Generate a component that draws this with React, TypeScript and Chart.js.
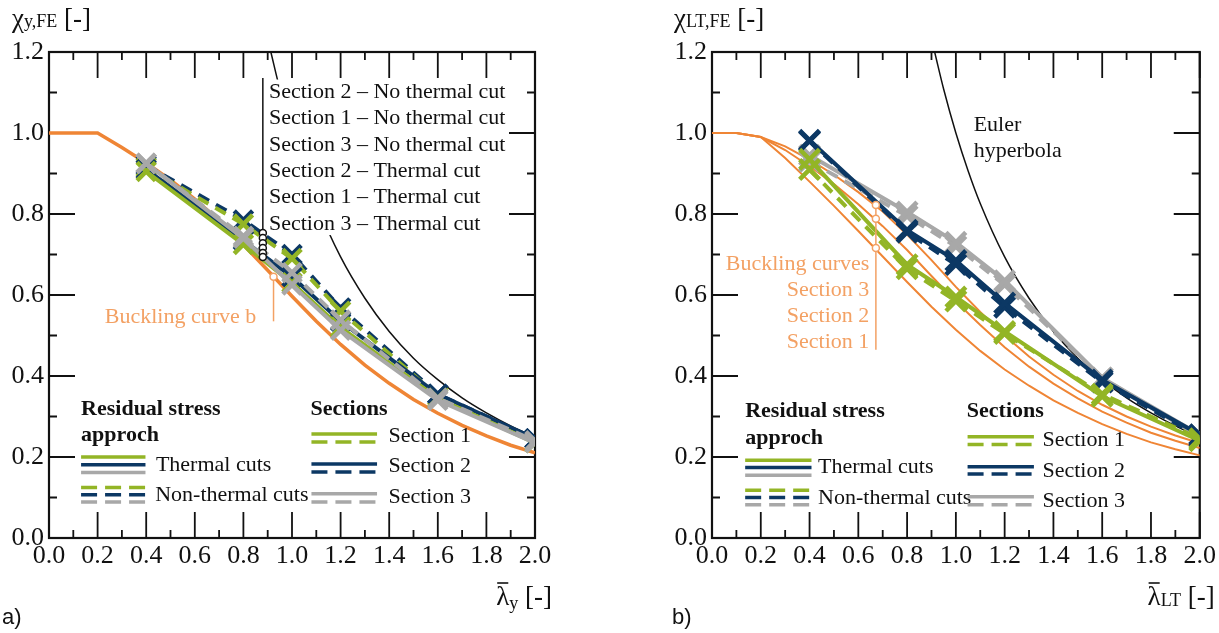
import React, { useEffect, useRef } from "react";
import { Chart, registerables } from "chart.js";
Chart.register(...registerables);

// ---------------- DATA ----------------
const LAM_POINTS = [0.4, 0.8, 1.0, 1.2, 1.6, 2.0];

// a) flexural buckling, chi_y,FE
const A_S1_THERMAL = [0.905, 0.725, 0.63, 0.52, 0.345, 0.235];
const A_S2_THERMAL = [0.91, 0.735, 0.645, 0.535, 0.355, 0.245];
const A_S3_THERMAL = [0.925, 0.74, 0.625, 0.513, 0.34, 0.235];
const A_S1_NONTHERMAL = [0.915, 0.775, 0.69, 0.56, 0.35, 0.24];
const A_S2_NONTHERMAL = [0.92, 0.785, 0.7, 0.568, 0.355, 0.245];
const A_S3_NONTHERMAL = [0.925, 0.745, 0.655, 0.538, 0.345, 0.24];

// b) lateral torsional buckling, chi_LT,FE
const B_S1_THERMAL = [0.935, 0.675, 0.595, 0.51, 0.35, 0.24];
const B_S1_NONTHERMAL = [0.91, 0.665, 0.585, 0.505, 0.355, 0.245];
const B_S2_THERMAL = [0.982, 0.76, 0.685, 0.58, 0.39, 0.255];
const B_S2_NONTHERMAL = [0.98, 0.755, 0.675, 0.57, 0.385, 0.25];
const B_S3_THERMAL = [0.945, 0.805, 0.73, 0.635, 0.395, 0.255];
const B_S3_NONTHERMAL = [0.93, 0.795, 0.72, 0.625, 0.395, 0.25];

// buckling curves
const CURVE_LAM = [0, 0.1, 0.2, 0.3, 0.4, 0.5, 0.6, 0.7, 0.8, 0.9, 1.0, 1.1, 1.2, 1.3, 1.4, 1.5, 1.6, 1.7, 1.8, 1.9, 2.0];
const A_CURVE_B = [1.0, 1.0, 1.0, 0.964, 0.926, 0.884, 0.837, 0.784, 0.724, 0.661, 0.597, 0.535, 0.478, 0.427, 0.382, 0.342, 0.308, 0.278, 0.252, 0.229, 0.21];
const B_CURVE_S1 = [1.0, 1.0, 0.99, 0.938, 0.88, 0.82, 0.758, 0.695, 0.632, 0.571, 0.514, 0.462, 0.416, 0.376, 0.34, 0.309, 0.281, 0.257, 0.236, 0.219, 0.204];
const B_CURVE_S2 = [1.0, 1.0, 0.99, 0.958, 0.918, 0.874, 0.824, 0.77, 0.711, 0.647, 0.584, 0.526, 0.471, 0.423, 0.381, 0.345, 0.312, 0.285, 0.26, 0.24, 0.222];
const B_CURVE_S3 = [1.0, 1.0, 0.99, 0.967, 0.934, 0.897, 0.854, 0.806, 0.749, 0.686, 0.62, 0.558, 0.5, 0.448, 0.403, 0.363, 0.329, 0.3, 0.275, 0.253, 0.234];

// Euler hyperbola
const EULER_LAM = [0.913, 0.95, 1.0, 1.05, 1.1, 1.2, 1.3, 1.4, 1.5, 1.6, 1.7, 1.8, 1.9, 2.0];
const EULER_CHI = [1.2, 1.108, 1.0, 0.907, 0.826, 0.694, 0.592, 0.51, 0.444, 0.391, 0.346, 0.309, 0.277, 0.25];

// text
const A_LEADER_LABELS = [
  "Section 2 – No thermal cut",
  "Section 1 – No thermal cut",
  "Section 3 – No thermal cut",
  "Section 2 – Thermal cut",
  "Section 1 – Thermal cut",
  "Section 3 – Thermal cut",
];
const A_LEADER_CHI = [0.753, 0.741, 0.728, 0.716, 0.704, 0.694];
const B_CURVE_LABELS = ["Buckling curves", "Section 3", "Section 2", "Section 1"];
const B_LEADER_CHI = [0.822, 0.788, 0.716];

// ---------------- STYLE ----------------
const SERIF = '"Liberation Serif", "Times New Roman", serif';
const SANS = '"Liberation Sans", Arial, sans-serif';
const GREEN = "#93b526";
const BLUE = "#0c3864";
const GRAY = "#a8a8a8";
const ORANGE = "#ef8535";
const ORANGE_TXT = "#f3a164";
const INK = "#111111";
const TXT = 22;

type XY = { x: number; y: number };
const zip = (xs: number[], ys: number[]): XY[] => xs.map((x, i) => ({ x, y: ys[i] }));

function series(label: string, ys: number[], color: string, dashed: boolean, order: number, radius: number) {
  return {
    label,
    data: zip(LAM_POINTS, ys),
    showLine: true,
    borderColor: color,
    backgroundColor: color,
    borderWidth: 4,
    borderDash: dashed ? [12, 8] : [],
    pointStyle: "crossRot",
    pointRadius: radius,
    pointBorderWidth: 4.5,
    pointBorderColor: color,
    pointHoverRadius: radius,
    tension: 0,
    order,
  };
}

function curve(label: string, xs: number[], ys: number[], color: string, width: number, order: number, smooth: boolean) {
  return {
    label,
    data: zip(xs, ys),
    showLine: true,
    borderColor: color,
    backgroundColor: color,
    borderWidth: width,
    pointRadius: 0,
    pointHoverRadius: 0,
    cubicInterpolationMode: smooth ? "monotone" : "default",
    tension: 0,
    order,
  };
}

function text(ctx: CanvasRenderingContext2D, s: string, x: number, y: number, opts: any = {}) {
  const { size = TXT, weight = "normal", color = INK, align = "left", family = SERIF } = opts;
  ctx.font = `${weight} ${size}px ${family}`;
  ctx.fillStyle = color;
  ctx.textAlign = align;
  ctx.textBaseline = "middle";
  ctx.fillText(s, x, y);
}

function line(ctx: CanvasRenderingContext2D, x1: number, y1: number, x2: number, y2: number, color: string, w: number, dash: number[] = []) {
  ctx.save();
  ctx.strokeStyle = color;
  ctx.lineWidth = w;
  ctx.setLineDash(dash);
  ctx.beginPath();
  ctx.moveTo(x1, y1);
  ctx.lineTo(x2, y2);
  ctx.stroke();
  ctx.restore();
}

function circle(ctx: CanvasRenderingContext2D, x: number, y: number, r: number, color: string) {
  ctx.save();
  ctx.beginPath();
  ctx.arc(x, y, r, 0, Math.PI * 2);
  ctx.fillStyle = "#fff";
  ctx.fill();
  ctx.strokeStyle = color;
  ctx.lineWidth = 1.5;
  ctx.stroke();
  ctx.restore();
}

function subTitle(ctx: CanvasRenderingContext2D, main: string, sub: string, x: number, base: number, align: "left" | "right", bar: boolean, subDrop: number) {
  const big = `27px ${SERIF}`;
  const small = `18px ${SERIF}`;
  const tail = " [-]";
  ctx.save();
  ctx.textBaseline = "alphabetic";
  ctx.textAlign = "left";
  ctx.fillStyle = INK;
  ctx.font = big;
  const w1 = ctx.measureText(main).width;
  const w3 = ctx.measureText(tail).width;
  ctx.font = small;
  const w2 = ctx.measureText(sub).width;
  const start = align === "right" ? x - (w1 + w2 + w3) : x;
  ctx.font = big;
  ctx.fillText(main, start, base);
  ctx.font = small;
  ctx.fillText(sub, start + w1, base + subDrop);
  ctx.font = big;
  ctx.fillText(tail, start + w1 + w2, base);
  if (bar) line(ctx, start + 1, base - 22, start + w1 - 1, base - 22, INK, 1.6);
  ctx.restore();
}

type LegendPos = {
  resX: number; resY: number; appY: number;
  thX1: number; thX2: number; thY: number[]; thTxtX: number; thTxtY: number;
  ntY: number[]; ntTxtX: number; ntTxtY: number;
  secX: number; secY: number; sX1: number; sX2: number; sTxtX: number;
  sSolid: number[]; sDash: number[]; sTxt: number[];
};

function drawLegend(ctx: CanvasRenderingContext2D, X: (v: number) => number, Y: (v: number) => number, p: LegendPos) {
  const cols = [GREEN, BLUE, GRAY];
  text(ctx, "Residual stress", X(p.resX), Y(p.resY), { weight: "bold" });
  text(ctx, "approch", X(p.resX), Y(p.appY), { weight: "bold" });
  cols.forEach((c, i) => line(ctx, X(p.thX1), Y(p.thY[i]), X(p.thX2), Y(p.thY[i]), c, 3.5));
  text(ctx, "Thermal cuts", X(p.thTxtX), Y(p.thTxtY));
  cols.forEach((c, i) => line(ctx, X(p.thX1), Y(p.ntY[i]), X(p.thX2), Y(p.ntY[i]), c, 3.5, [16, 8]));
  text(ctx, "Non-thermal cuts", X(p.ntTxtX), Y(p.ntTxtY));
  text(ctx, "Sections", X(p.secX), Y(p.secY), { weight: "bold" });
  cols.forEach((c, i) => {
    line(ctx, X(p.sX1), Y(p.sSolid[i]), X(p.sX2), Y(p.sSolid[i]), c, 3.5);
    line(ctx, X(p.sX1), Y(p.sDash[i]), X(p.sX2), Y(p.sDash[i]), c, 3.5, [16, 8]);
    text(ctx, `Section ${i + 1}`, X(p.sTxtX), Y(p.sTxt[i]));
  });
}

function drawFrame(ctx: CanvasRenderingContext2D, chart: any) {
  const xs = chart.scales.x;
  const ys = chart.scales.y;
  const { left, right, top, bottom } = chart.chartArea;
  ctx.save();
  ctx.strokeStyle = INK;
  ctx.lineWidth = 1.8;
  for (let i = 0; i <= 20; i++) {
    const px = xs.getPixelForValue(i / 10);
    const len = i % 2 === 0 ? 26 : 8;
    ctx.beginPath();
    ctx.moveTo(px, bottom);
    ctx.lineTo(px, bottom - len);
    ctx.moveTo(px, top);
    ctx.lineTo(px, top + len);
    ctx.stroke();
  }
  for (let i = 0; i <= 12; i++) {
    const py = ys.getPixelForValue(i / 10);
    const len = i % 2 === 0 ? 26 : 8;
    ctx.beginPath();
    ctx.moveTo(left, py);
    ctx.lineTo(left + len, py);
    ctx.moveTo(right, py);
    ctx.lineTo(right - len, py);
    ctx.stroke();
  }
  ctx.lineWidth = 2.2;
  ctx.strokeRect(left, top, right - left, bottom - top);
  ctx.restore();
}

function decorPlugin(panel: "a" | "b") {
  return {
    id: "decor_" + panel,
    beforeDatasetsDraw(chart: any) {
      drawFrame(chart.ctx, chart);
    },
    afterDatasetsDraw(chart: any) {
      const ctx: CanvasRenderingContext2D = chart.ctx;
      const X = (v: number) => chart.scales.x.getPixelForValue(v);
      const Y = (v: number) => chart.scales.y.getPixelForValue(v);
      const { right, bottom } = chart.chartArea;
      ctx.save();
      if (panel === "a") {
        ctx.fillStyle = "#fff";
        ctx.fillRect(X(0.895), Y(1.132), X(1.88) - X(0.895), Y(0.748) - Y(1.132));
        line(ctx, X(0.88), Y(1.136), X(0.88), Y(0.694), INK, 1.5);
        A_LEADER_CHI.forEach((c) => circle(ctx, X(0.88), Y(c), 3.5, INK));
        A_LEADER_LABELS.forEach((s, i) => text(ctx, s, X(0.905), Y(1.101 - i * 0.065)));
        line(ctx, X(0.924), Y(0.645), X(0.924), Y(0.535), ORANGE_TXT, 1.5);
        circle(ctx, X(0.924), Y(0.645), 3.5, ORANGE_TXT);
        text(ctx, "Buckling curve b", X(0.853), Y(0.545), { color: ORANGE_TXT, align: "right" });
        drawLegend(ctx, X, Y, {
          resX: 0.132, resY: 0.317, appY: 0.253,
          thX1: 0.132, thX2: 0.397, thY: [0.2, 0.181, 0.162], thTxtX: 0.44, thTxtY: 0.179,
          ntY: [0.125, 0.107, 0.089], ntTxtX: 0.437, ntTxtY: 0.105,
          secX: 1.076, secY: 0.318, sX1: 1.08, sX2: 1.35, sTxtX: 1.397,
          sSolid: [0.257, 0.183, 0.109], sDash: [0.237, 0.163, 0.089], sTxt: [0.251, 0.177, 0.1],
        });
        subTitle(ctx, "χ", "y,FE", 12, 27, "left", false, 0);
        subTitle(ctx, "λ", "y", right + 17, bottom + 67, "right", true, 4);
        text(ctx, "a)", 2, 618, { family: SANS, size: 22 });
      } else {
        text(ctx, "Euler", X(1.073), Y(1.018));
        text(ctx, "hyperbola", X(1.073), Y(0.955));
        line(ctx, X(0.672), Y(0.822), X(0.672), Y(0.465), ORANGE_TXT, 1.5);
        B_LEADER_CHI.forEach((c) => circle(ctx, X(0.672), Y(c), 3.5, ORANGE_TXT));
        B_CURVE_LABELS.forEach((s, i) => text(ctx, s, X(0.645), Y(0.676 - i * 0.064), { color: ORANGE_TXT, align: "right" }));
        drawLegend(ctx, X, Y, {
          resX: 0.136, resY: 0.312, appY: 0.245,
          thX1: 0.136, thX2: 0.408, thY: [0.192, 0.174, 0.155], thTxtX: 0.435, thTxtY: 0.174,
          ntY: [0.118, 0.1, 0.082], ntTxtX: 0.435, ntTxtY: 0.099,
          secX: 1.045, secY: 0.314, sX1: 1.048, sX2: 1.32, sTxtX: 1.355,
          sSolid: [0.25, 0.176, 0.102], sDash: [0.231, 0.158, 0.082], sTxt: [0.242, 0.165, 0.091],
        });
        subTitle(ctx, "χ", "LT,FE", 64, 27, "left", false, 0);
        subTitle(ctx, "λ", "LT", right + 15, bottom + 67, "right", true, 1);
        text(ctx, "b)", 62, 618, { family: SANS, size: 22 });
      }
      ctx.restore();
    },
  };
}

function buildConfig(panel: "a" | "b"): any {
  const yWidth = panel === "a" ? 49 : 102;
  const padRight = panel === "a" ? 75 : 19;
  let datasets: any[];
  if (panel === "a") {
    datasets = [
      curve("Buckling curve b", CURVE_LAM, A_CURVE_B, ORANGE, 3.5, 9, false),
      curve("Euler hyperbola", EULER_LAM, EULER_CHI, INK, 1.5, 8, true),
      series("Section 2 – No thermal cut", A_S2_NONTHERMAL, BLUE, true, 7, 13),
      series("Section 1 – No thermal cut", A_S1_NONTHERMAL, GREEN, true, 6, 13),
      series("Section 2 – Thermal cut", A_S2_THERMAL, BLUE, false, 5, 13),
      series("Section 1 – Thermal cut", A_S1_THERMAL, GREEN, false, 4, 13),
      series("Section 3 – No thermal cut", A_S3_NONTHERMAL, GRAY, true, 3, 13),
      series("Section 3 – Thermal cut", A_S3_THERMAL, GRAY, false, 2, 13),
    ];
  } else {
    datasets = [
      curve("Euler hyperbola", EULER_LAM, EULER_CHI, INK, 1.5, 12, true),
      curve("Buckling curve Section 1", CURVE_LAM, B_CURVE_S1, ORANGE, 2, 11, false),
      curve("Buckling curve Section 2", CURVE_LAM, B_CURVE_S2, ORANGE, 2, 10, false),
      curve("Buckling curve Section 3", CURVE_LAM, B_CURVE_S3, ORANGE, 2, 9, false),
      series("Section 3 – Non-thermal cuts", B_S3_NONTHERMAL, GRAY, true, 8, 14),
      series("Section 3 – Thermal cuts", B_S3_THERMAL, GRAY, false, 7, 14),
      series("Section 2 – Non-thermal cuts", B_S2_NONTHERMAL, BLUE, true, 6, 14),
      series("Section 2 – Thermal cuts", B_S2_THERMAL, BLUE, false, 5, 14),
      series("Section 1 – Non-thermal cuts", B_S1_NONTHERMAL, GREEN, true, 4, 14),
      series("Section 1 – Thermal cuts", B_S1_THERMAL, GREEN, false, 3, 14),
    ];
  }
  const tickFont = { family: SERIF, size: 26 };
  return {
    type: "scatter",
    data: { datasets },
    options: {
      responsive: false,
      animation: false,
      devicePixelRatio: 1,
      layout: { padding: { top: 52, right: padRight, left: 0, bottom: 0 } },
      plugins: { legend: { display: false }, tooltip: { enabled: false } },
      events: [],
      scales: {
        x: {
          type: "linear",
          min: 0,
          max: 2.0,
          ticks: {
            stepSize: 0.2,
            font: tickFont,
            color: INK,
            padding: 3,
            maxRotation: 0,
            autoSkip: false,
            callback: (v: number) => Number(v).toFixed(1),
          },
          grid: { display: false, drawTicks: false },
          border: { display: false },
          afterFit: (s: any) => {
            s.height = 95;
          },
        },
        y: {
          type: "linear",
          min: 0,
          max: 1.2,
          ticks: {
            stepSize: 0.2,
            font: tickFont,
            color: INK,
            padding: 5,
            callback: (v: number) => Number(v).toFixed(1),
          },
          grid: { display: false, drawTicks: false },
          border: { display: false },
          afterFit: (s: any) => {
            s.width = yWidth;
          },
        },
      },
    },
    plugins: [decorPlugin(panel)],
  };
}

export default function App() {
  const refA = useRef<HTMLCanvasElement>(null);
  const refB = useRef<HTMLCanvasElement>(null);
  useEffect(() => {
    const a = new Chart(refA.current as HTMLCanvasElement, buildConfig("a"));
    const b = new Chart(refB.current as HTMLCanvasElement, buildConfig("b"));
    return () => {
      a.destroy();
      b.destroy();
    };
  }, []);
  return (
    <div style={{ position: "fixed", left: 0, top: 0, width: 1219, height: 633, background: "#fff" }}>
      <canvas ref={refA} width={610} height={633} style={{ position: "absolute", left: 0, top: 0, width: 610, height: 633 }} />
      <canvas ref={refB} width={609} height={633} style={{ position: "absolute", left: 610, top: 0, width: 609, height: 633 }} />
    </div>
  );
}
